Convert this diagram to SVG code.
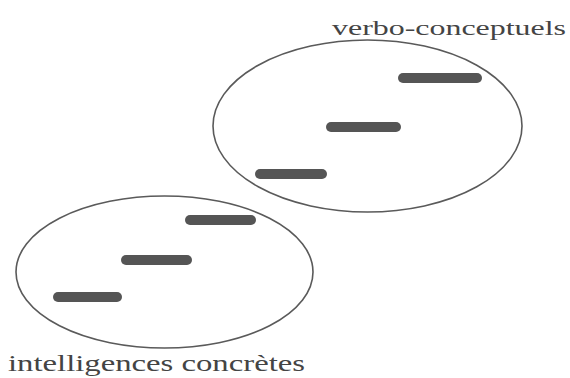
<svg xmlns="http://www.w3.org/2000/svg" width="570" height="378" viewBox="0 0 570 378">
<style>
.ell{fill:none;stroke:#5a5a5a;stroke-width:1.6}
.bar{stroke:#555;stroke-width:10;stroke-linecap:round}
.lbl{font-family:"Liberation Serif",serif;fill:#444}
</style>
<rect width="570" height="378" fill="#fff"/>
<g id="verbo">
<ellipse class="ell" cx="367.5" cy="126" rx="154.5" ry="86"/>
<line class="bar" x1="403" y1="78" x2="477" y2="78"/>
<line class="bar" x1="331" y1="127" x2="396" y2="127"/>
<line class="bar" x1="260" y1="174" x2="322" y2="174"/>
<text class="lbl" x="332" y="35" font-size="22" textLength="234" lengthAdjust="spacingAndGlyphs">verbo-conceptuels</text>
</g>
<g id="concretes">
<ellipse class="ell" cx="164.5" cy="272" rx="148.5" ry="76"/>
<line class="bar" x1="190" y1="220" x2="251" y2="220"/>
<line class="bar" x1="126" y1="260" x2="187" y2="260"/>
<line class="bar" x1="58" y1="297" x2="117" y2="297"/>
<text class="lbl" x="8" y="371" font-size="24" textLength="297" lengthAdjust="spacingAndGlyphs">intelligences concrètes</text>
</g>
<g id="connectors"/>
</svg>
